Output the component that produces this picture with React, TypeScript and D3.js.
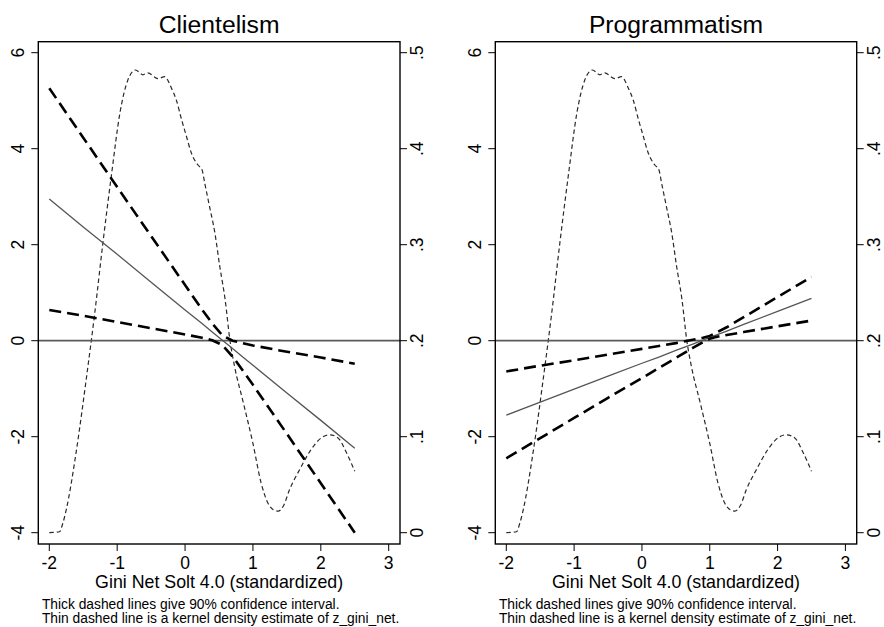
import React from "react";
import * as d3 from "d3";

// Marginal effect of inequality on linkage strategies, with 90% CI and the
// kernel density of the moderator on a secondary axis.

const xTicks = [-2, -1, 0, 1, 2, 3];
const yTicks = [-4, -2, 0, 2, 4, 6];
const densTicks = [0, 0.1, 0.2, 0.3, 0.4, 0.5];
const densTickLabels = ["0", ".1", ".2", ".3", ".4", ".5"];

const panelTitles = ["Clientelism", "Programmatism"];
const xAxisTitle = "Gini Net Solt 4.0 (standardized)";
const noteLines = [
  "Thick dashed lines give 90% confidence interval.",
  "Thin dashed line is a kernel density estimate of z_gini_net.",
];

// Clientelism: marginal effect and confidence bounds
const cliX = [-2, -1.5, -1, -0.5, 0, 0.25, 0.4, 0.55, 0.7, 0.85, 1, 1.5, 2, 2.5];
const cliEffect = [2.95, 2.37, 1.8, 1.22, 0.64, 0.36, 0.18, 0.01, -0.16, -0.34, -0.51, -1.09, -1.66, -2.24];
const cliUpper = [5.26, 4.23, 3.2, 2.18, 1.16, 0.65, 0.36, 0.11, 0.0, -0.05, -0.1, -0.23, -0.35, -0.48];
const cliLower = [0.64, 0.52, 0.39, 0.26, 0.13, 0.06, 0.01, -0.09, -0.33, -0.62, -0.92, -1.94, -2.97, -4.0];

// Programmatism: marginal effect and confidence bounds
const proX = [-2, -1.5, -1, -0.5, 0, 0.25, 0.5, 0.75, 0.9, 1, 1.1, 1.25, 1.5, 2, 2.5];
const proEffect = [-1.55, -1.28, -1.01, -0.74, -0.47, -0.34, -0.2, -0.07, 0.01, 0.07, 0.12, 0.2, 0.34, 0.61, 0.88];
const proUpper = [-0.64, -0.52, -0.41, -0.29, -0.17, -0.11, -0.05, 0.02, 0.06, 0.1, 0.17, 0.28, 0.49, 0.91, 1.33];
const proLower = [-2.45, -2.03, -1.61, -1.19, -0.78, -0.57, -0.36, -0.15, -0.03, 0.04, 0.08, 0.12, 0.18, 0.3, 0.42];

// Kernel density of z_gini_net
const densX = [
  -2.0, -1.85, -1.8, -1.75, -1.6, -1.45, -1.33, -1.21, -1.08, -0.96, -0.84, -0.73, -0.62, -0.55,
  -0.4, -0.3, -0.2, -0.13, -0.05, 0.02, 0.09, 0.19, 0.25, 0.29, 0.36, 0.44, 0.51, 0.59, 0.66,
  0.73, 0.86, 1.0, 1.12, 1.22, 1.3, 1.37, 1.45, 1.54, 1.69, 1.86, 2.01, 2.13, 2.25, 2.38, 2.5,
];
const densY = [
  0.0, 0.001, 0.01, 0.024, 0.086, 0.163, 0.229, 0.302, 0.375, 0.437, 0.472, 0.482, 0.477, 0.479,
  0.473, 0.475, 0.463, 0.451, 0.43, 0.413, 0.396, 0.383, 0.378, 0.364, 0.34, 0.312, 0.278, 0.243,
  0.201, 0.173, 0.135, 0.093, 0.052, 0.031, 0.024, 0.0225, 0.028, 0.045, 0.066, 0.087, 0.099,
  0.102, 0.099, 0.083, 0.064,
];

const FONT = "'Liberation Sans', Arial, Helvetica, sans-serif";
const W = 884;
const H = 627;
const TOP = 41.7;
const BOTTOM = 544;

type Series = { x: number[]; effect: number[]; upper: number[]; lower: number[] };

const panels: { title: string; x0: number; x1: number; data: Series }[] = [
  { title: panelTitles[0], x0: 38.3, x1: 400, data: { x: cliX, effect: cliEffect, upper: cliUpper, lower: cliLower } },
  { title: panelTitles[1], x0: 495.3, x1: 856.7, data: { x: proX, effect: proEffect, upper: proUpper, lower: proLower } },
];

function Panel({ title, x0, x1, data }: { title: string; x0: number; x1: number; data: Series }) {
  const x = d3.scaleLinear().domain([-2, 3]).range([x0 + 11, x1 - 11.3]);
  const y = d3.scaleLinear().domain([-4, 6]).range([532.7, 52.7]);
  const yD = d3.scaleLinear().domain([0, 0.5]).range([532.7, 52.7]);
  const cx = (x0 + x1) / 2;

  const line = d3
    .line<number>()
    .x((_, i) => x(data.x[i]))
    .y((v) => y(v));
  const densLine = d3
    .line<number>()
    .x((_, i) => x(densX[i]))
    .y((v) => yD(v))
    .curve(d3.curveMonotoneX);

  return (
    <g>
      <text x={cx} y={32.7} textAnchor="middle" fontSize={24.7} fontFamily={FONT} fill="#000">
        {title}
      </text>

      {/* density on the secondary axis */}
      <path d={densLine(densY) || ""} fill="none" stroke="#2a2a2a" strokeWidth={1.2} strokeDasharray="4.5,3" />

      {/* reference line at zero */}
      <line x1={x0} x2={x1} y1={y(0)} y2={y(0)} stroke="#5a5a5a" strokeWidth={1.8} />

      {/* marginal effect */}
      <path d={line(data.effect) || ""} fill="none" stroke="#555" strokeWidth={1.3} />

      {/* 90% confidence bounds */}
      <path d={line(data.upper) || ""} fill="none" stroke="#000" strokeWidth={2.6} strokeDasharray="12,6" />
      <path d={line(data.lower) || ""} fill="none" stroke="#000" strokeWidth={2.6} strokeDasharray="12,6" />

      {/* plot frame */}
      <rect x={x0} y={TOP} width={x1 - x0} height={BOTTOM - TOP} fill="none" stroke="#000" strokeWidth={1.4} />

      {/* left axis */}
      {yTicks.map((t) => (
        <g key={"yl" + t}>
          <line x1={x0 - 7} x2={x0} y1={y(t)} y2={y(t)} stroke="#000" strokeWidth={1} />
          <text
            transform={`translate(${x0 - 14.4},${y(t)}) rotate(-90)`}
            textAnchor="middle"
            fontSize={17.5}
            fontFamily={FONT}
            fill="#000"
          >
            {t}
          </text>
        </g>
      ))}

      {/* right axis: density */}
      {densTicks.map((t, i) => (
        <g key={"yr" + t}>
          <line x1={x1} x2={x1 + 7} y1={yD(t)} y2={yD(t)} stroke="#000" strokeWidth={1} />
          <text
            transform={`translate(${x1 + 23.4},${yD(t)}) rotate(-90)`}
            textAnchor="middle"
            fontSize={17.5}
            fontFamily={FONT}
            fill="#000"
          >
            {densTickLabels[i]}
          </text>
        </g>
      ))}

      {/* bottom axis */}
      {xTicks.map((t) => (
        <g key={"x" + t}>
          <line x1={x(t)} x2={x(t)} y1={BOTTOM} y2={BOTTOM + 7} stroke="#000" strokeWidth={1} />
          <text x={x(t)} y={568.5} textAnchor="middle" fontSize={17.5} fontFamily={FONT} fill="#000">
            {t}
          </text>
        </g>
      ))}

      <text x={cx} y={588.3} textAnchor="middle" fontSize={17.8} fontFamily={FONT} fill="#000">
        {xAxisTitle}
      </text>

      {noteLines.map((s, i) => (
        <text key={i} x={x0 + 3.6} y={609.2 + i * 13.6} fontSize={13.8} fontFamily={FONT} fill="#000">
          {s}
        </text>
      ))}
    </g>
  );
}

export default function App() {
  return (
    <svg
      width={W}
      height={H}
      viewBox={`0 0 ${W} ${H}`}
      style={{ position: "absolute", left: 0, top: 0, background: "#fff" }}
    >
      <rect x={0} y={0} width={W} height={H} fill="#fff" />
      {panels.map((p) => (
        <Panel key={p.title} {...p} />
      ))}
    </svg>
  );
}
